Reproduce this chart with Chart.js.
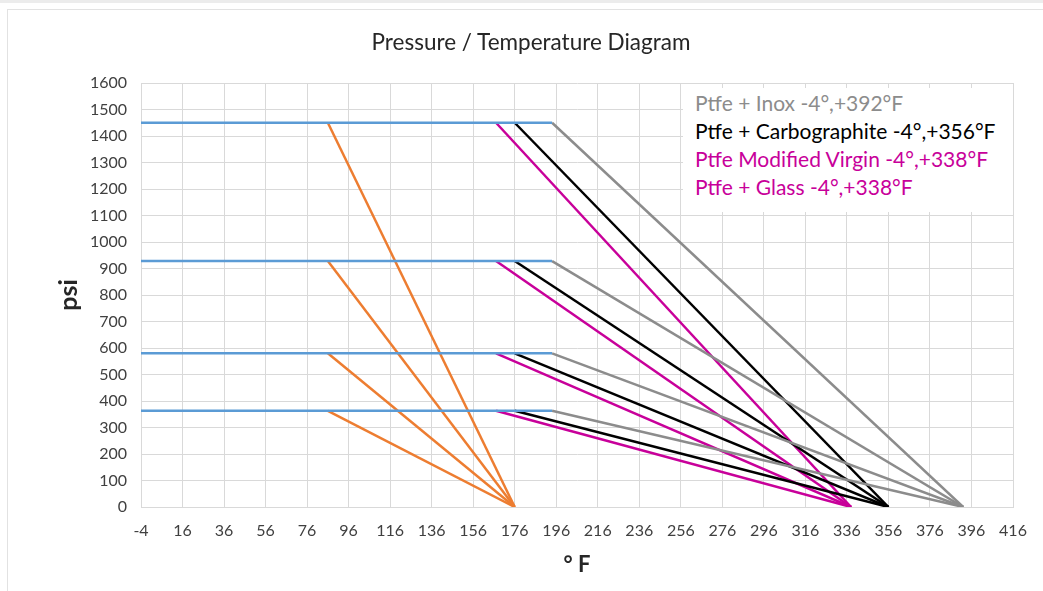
<!DOCTYPE html>
<html>
<head>
<meta charset="utf-8">
<title>Pressure / Temperature Diagram</title>
<script src="https://cdn.jsdelivr.net/npm/chart.js@4"></script>
<style>
  body { margin: 0; background: #fff; font-family: Lato, "Noto Sans", sans-serif; }
  #wrap { position: relative; width: 1043px; height: 591px; overflow: hidden; }
  #topband { position: absolute; left: 0; top: 0; width: 1043px; height: 3px; background: #ececec; }
  #frame { position: absolute; left: 7px; top: 9px; width: 1040px; height: 590px; border: 1px solid #e2e2e2; }
  #grafico { position: absolute; left: 0; top: 0; }
  #titulo {
    position: absolute; left: 331px; top: 28px; width: 400px; text-align: center;
    font-size: 22.5px; line-height: 28px; color: #262626; white-space: nowrap;
  }
  #legenda {
    position: absolute; left: 683px; top: 88px; width: 330px; height: 124px;
    background: #fff; box-sizing: border-box; padding: 1px 0 0 12px;
    font-size: 21px; line-height: 28px; white-space: nowrap;
  }
</style>
</head>
<body>
<div id="wrap">
  <div id="topband"></div>
  <div id="frame"></div>
  <canvas id="grafico" width="1043" height="591"></canvas>
  <div id="titulo">Pressure / Temperature Diagram</div>
  <div id="legenda">
    <div style="color:#8c8c8c">Ptfe + Inox -4°,+392°F</div>
    <div style="color:#000">Ptfe + Carbographite -4°,+356°F</div>
    <div style="color:#c8009a">Ptfe Modified Virgin -4°,+338°F</div>
    <div style="color:#c8009a">Ptfe + Glass -4°,+338°F</div>
  </div>
</div>
<script>
// ================= DADOS =================
const pressureLevels = [1450, 928, 580, 363];   // psi
const xTicks = [-4, 16, 36, 56, 76, 96, 116, 136, 156, 176, 196, 216, 236, 256, 276, 296, 316, 336, 356, 376, 396, 416];
const yTicks = [0, 100, 200, 300, 400, 500, 600, 700, 800, 900, 1000, 1100, 1200, 1300, 1400, 1500, 1600];

// horizontal reference lines (blue)
const blueFrom = -4;
const blueTo = 194;

// slope lines: start temp at the pressure level -> end temp at 0 psi
const orangeStart = 86,  orangeEnd = 176;
const magentaStart = 167, magentaEnd = 338;
const blackStart = 176,  blackEnd = 356;
const grayStart = 194,   grayEnd = 392;

// ================= DATASETS =================
function seg(x1, y1, x2, y2, color) {
  return {
    data: [{ x: x1, y: y1 }, { x: x2, y: y2 }],
    borderColor: color,
    borderWidth: 2.5,
    pointRadius: 0,
    fill: false,
    tension: 0
  };
}

let datasets = [];
pressureLevels.forEach(p => datasets.push(seg(blueFrom, p, blueTo, p, "#5b9bd5")));
pressureLevels.forEach(p => datasets.push(seg(grayStart, p, grayEnd, 0, "#8c8c8c")));
pressureLevels.forEach(p => datasets.push(seg(blackStart, p, blackEnd, 0, "#000000")));
pressureLevels.forEach(p => datasets.push(seg(magentaStart, p, magentaEnd, 0, "#c8009a")));
pressureLevels.forEach(p => datasets.push(seg(orangeStart, p, orangeEnd, 0, "#ed7d31")));

// ================= GRÁFICO =================
const fam = "Lato, 'Noto Sans', sans-serif";
const tickFont = { family: fam, size: 16 };

let chart = new Chart(document.getElementById("grafico"), {
  type: "line",
  data: { datasets: datasets },
  options: {
    responsive: false,
    animation: false,
    layout: { padding: { left: 10, right: 30, top: 83, bottom: 0 } },
    plugins: {
      legend: { display: false },
      tooltip: { enabled: false },
      title: { display: false }
    },
    scales: {
      x: {
        type: "linear",
        min: xTicks[0],
        max: xTicks[xTicks.length - 1],
        afterBuildTicks: s => { s.ticks = xTicks.map(v => ({ value: v })); },
        afterFit: s => { s.height = 84; },
        ticks: { color: "#404040", font: tickFont, padding: 14, maxRotation: 0, autoSkip: false,
                 callback: v => String(v) },
        grid: { color: "#d9d9d9", drawTicks: false },
        border: { color: "#d9d9d9" },
        title: {
          display: true, text: "° F", color: "#262626",
          font: { family: fam, size: 22, weight: "bold" },
          padding: { top: 0, bottom: 13 }
        }
      },
      y: {
        type: "linear",
        min: yTicks[0],
        max: yTicks[yTicks.length - 1],
        afterBuildTicks: s => { s.ticks = yTicks.map(v => ({ value: v })); },
        afterFit: s => { s.width = 131; },
        ticks: { color: "#404040", font: tickFont, padding: 14, autoSkip: false,
                 callback: v => String(v) },
        grid: { color: "#d9d9d9", drawTicks: false },
        border: { color: "#d9d9d9" },
        title: {
          display: true, text: "psi", color: "#262626",
          font: { family: fam, size: 25, weight: "bold" },
          padding: { top: 44, bottom: 0 }
        }
      }
    }
  }
});
</script>
</body>
</html>
